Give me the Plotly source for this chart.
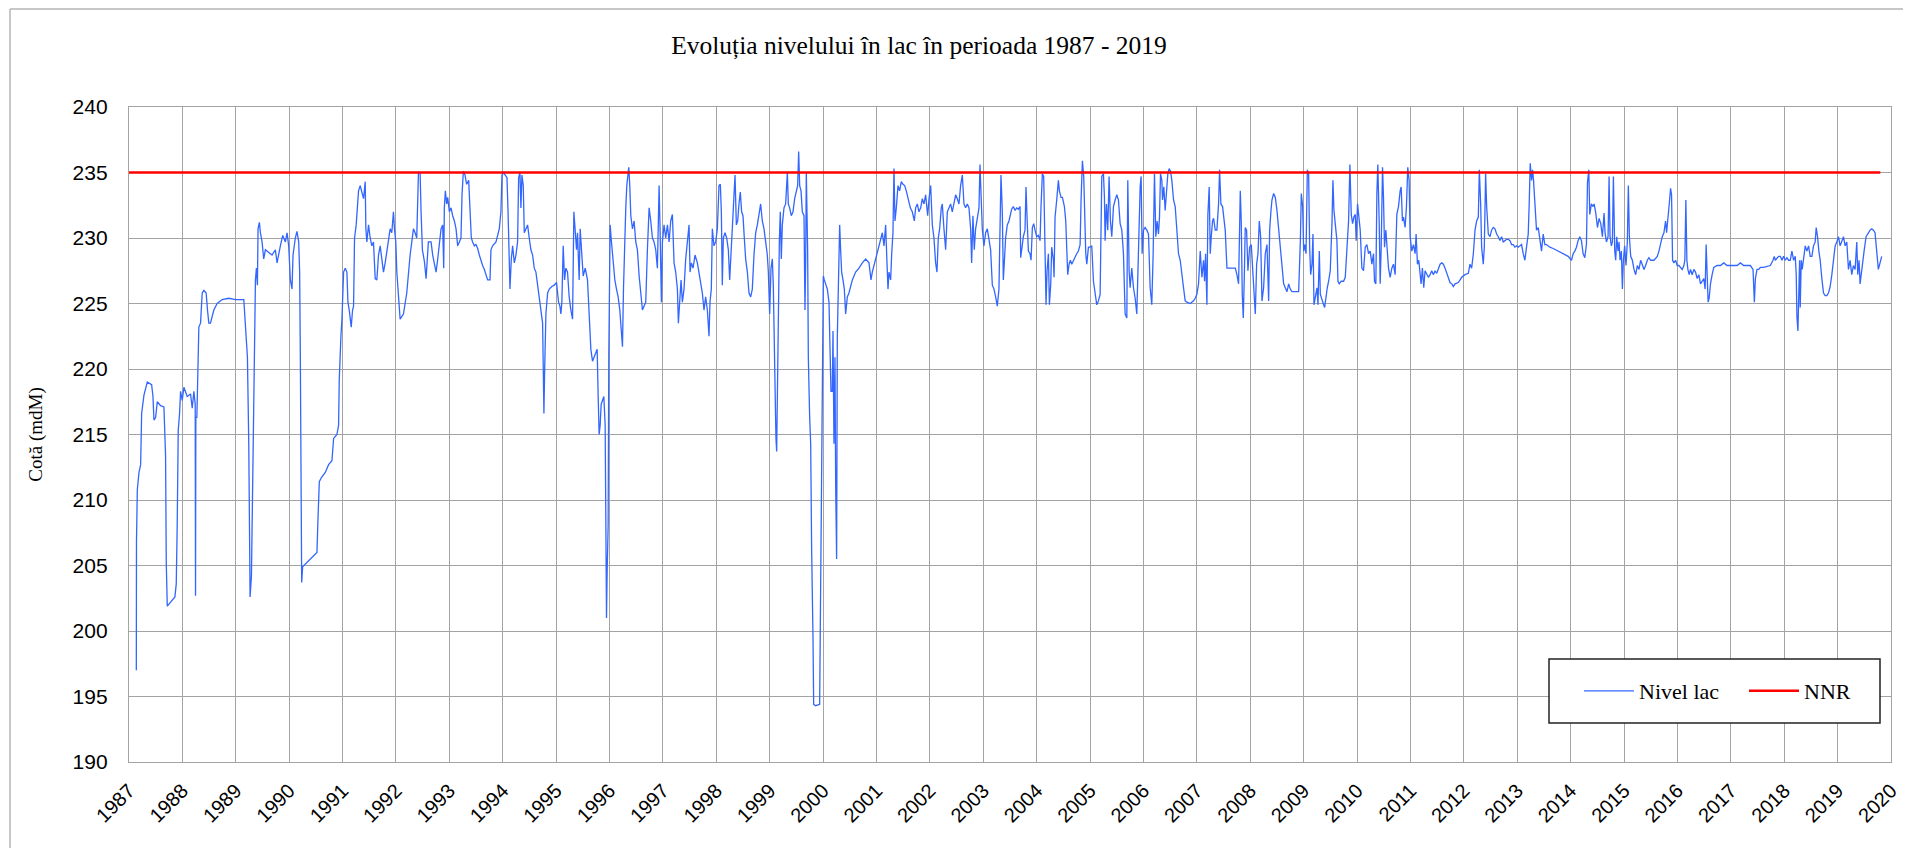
import plotly.graph_objects as go

# ---------------- data (decimal year, level in mdM) ----------------
t_1987_1992 = [1987.137,1987.140,1987.156,1987.187,1987.218,1987.237,1987.280,1987.343,1987.424,1987.449,1987.467,1987.498,1987.530,1987.592,1987.654,1987.685,1987.698,1987.717,1987.860,1987.885,1987.903,1987.922,1987.947,1987.966,1987.997,1988.028,1988.090,1988.153,1988.184,1988.215,1988.240,1988.246,1988.252,1988.271,1988.290,1988.308,1988.340,1988.371,1988.402,1988.445,1988.470,1988.495,1988.526,1988.589,1988.651,1988.745,1988.869,1988.994,1989.150,1989.168,1989.193,1989.218,1989.243,1989.255,1989.268,1989.293,1989.318,1989.336,1989.355,1989.368,1989.386,1989.405,1989.417,1989.442,1989.461,1989.492,1989.523,1989.555,1989.617,1989.679,1989.741,1989.773,1989.835,1989.879,1989.928,1989.960,1989.991,1990.022,1990.053,1990.072,1990.115,1990.146,1990.178,1990.196,1990.209,1990.221,1990.234,1990.252,1990.520,1990.539,1990.564,1990.601,1990.676,1990.738,1990.801,1990.832,1990.894,1990.925,1990.938,1990.969,1990.988,1991.019,1991.050,1991.081,1991.100,1991.125,1991.143,1991.162,1991.187,1991.206,1991.224,1991.255,1991.299,1991.330,1991.361,1991.393,1991.424,1991.436,1991.455,1991.486,1991.517,1991.548,1991.579,1991.611,1991.642,1991.673,1991.704,1991.735,1991.766,1991.798,1991.829,1991.860,1991.891,1991.922,1991.953,1991.972,1991.997,1992.016,1992.047,1992.078,1992.140,1992.202,1992.265,1992.327,1992.358,1992.389,1992.421,1992.452,1992.470,1992.495,1992.533,1992.564,1992.607]
h_1987_1992 = [197.0,206.8,210.8,212.1,212.7,216.6,218.0,219.0,218.8,217.9,216.1,216.3,217.5,217.2,217.1,213.4,205.2,201.9,202.6,203.6,208.1,215.3,216.6,218.3,217.6,218.6,217.9,218.1,217.0,218.3,217.3,202.7,216.3,216.3,220.9,223.2,223.5,225.8,226.0,225.8,224.5,223.5,223.5,224.5,225.0,225.3,225.4,225.3,225.3,224.2,222.2,220.9,214.3,207.8,202.6,204.2,213.4,217.6,225.5,226.8,227.7,226.4,230.7,231.2,230.4,229.7,228.4,229.1,228.9,228.7,229.1,228.1,229.4,230.2,229.7,230.4,229.4,226.8,226.1,228.7,230.0,230.5,229.7,227.4,220.9,215.0,203.7,204.9,206.0,208.5,211.4,211.7,212.1,212.7,213.0,214.7,215.0,215.7,219.2,222.5,223.8,227.4,227.7,227.4,225.1,224.5,223.5,223.2,224.5,224.8,230.0,231.0,233.6,234.0,233.5,233.0,234.3,230.7,229.7,231.0,230.0,229.4,229.7,226.9,226.8,228.7,229.4,228.4,227.4,228.1,229.1,229.7,230.7,230.4,232.0,230.7,229.7,227.4,225.5,223.8,224.2,225.8,228.7,230.7,230.4,230.0,235.0,235.0,232.0,229.1,228.2,226.9,229.7]

t_1992_1998 = [1992.657,1992.688,1992.719,1992.751,1992.782,1992.813,1992.844,1992.875,1992.894,1992.906,1992.925,1992.950,1992.969,1993.000,1993.031,1993.062,1993.094,1993.125,1993.156,1993.187,1993.218,1993.237,1993.262,1993.293,1993.324,1993.362,1993.387,1993.411,1993.436,1993.468,1993.499,1993.530,1993.561,1993.592,1993.623,1993.655,1993.686,1993.717,1993.761,1993.779,1993.810,1993.873,1993.935,1993.966,1993.985,1994.010,1994.047,1994.079,1994.097,1994.122,1994.135,1994.160,1994.185,1994.216,1994.247,1994.278,1994.297,1994.322,1994.340,1994.359,1994.384,1994.403,1994.434,1994.465,1994.496,1994.527,1994.559,1994.590,1994.621,1994.652,1994.683,1994.714,1994.746,1994.758,1994.771,1994.783,1994.808,1994.840,1994.871,1994.920,1994.964,1995.007,1995.045,1995.070,1995.089,1995.107,1995.132,1995.157,1995.182,1995.213,1995.244,1995.276,1995.307,1995.332,1995.357,1995.382,1995.400,1995.431,1995.450,1995.475,1995.506,1995.544,1995.587,1995.618,1995.650,1995.681,1995.712,1995.743,1995.768,1995.787,1995.805,1995.824,1995.843,1995.868,1995.893,1995.918,1995.930,1995.943,1995.955,1995.974,1995.986,1995.999,1996.011,1996.036,1996.067,1996.099,1996.130,1996.161,1996.192,1996.223,1996.242,1996.261,1996.279,1996.304,1996.323,1996.342,1996.360,1996.379,1996.398,1996.429,1996.460,1996.491,1996.522,1996.554,1996.585,1996.616,1996.647,1996.678,1996.709,1996.741,1996.772,1996.803,1996.834,1996.865,1996.896,1996.928,1996.946,1996.971,1996.990,1997.021,1997.052,1997.084,1997.115,1997.146,1997.177,1997.208,1997.239,1997.271,1997.289,1997.314,1997.339,1997.364,1997.395,1997.426,1997.458,1997.489,1997.508,1997.532,1997.564,1997.601,1997.645,1997.676,1997.707,1997.738,1997.769,1997.800,1997.832,1997.863,1997.881,1997.906,1997.925,1997.956,1997.988,1998.019,1998.050]
h_1992_1998 = [229.7,228.7,228.1,227.4,228.4,229.4,230.7,231.0,227.7,232.3,233.6,232.6,233.1,232.0,232.3,231.7,231.3,230.7,229.4,229.7,230.0,233.3,235.1,234.8,234.1,234.4,232.3,230.0,229.7,229.4,229.5,229.2,228.7,228.2,227.9,227.6,227.1,226.8,226.8,229.1,229.4,229.7,230.7,232.0,234.8,235.0,234.8,234.6,232.3,228.7,226.1,228.4,229.4,228.1,228.7,229.7,234.6,235.0,232.3,234.8,234.0,230.4,230.7,231.0,230.0,229.1,228.7,227.7,227.4,226.4,225.5,224.2,223.5,220.2,216.6,219.6,224.2,225.8,226.1,226.3,226.4,226.6,225.1,224.8,224.2,225.1,229.4,226.8,227.7,227.4,225.5,224.5,223.8,232.0,230.7,229.1,230.4,226.8,230.7,229.1,227.1,227.7,226.8,224.2,221.5,220.6,220.9,221.2,221.5,217.9,215.0,215.7,217.3,217.6,217.9,215.7,207.8,201.0,204.5,208.1,220.9,230.0,231.0,229.7,228.1,226.8,226.1,225.5,224.5,222.2,221.7,226.1,229.7,232.3,234.0,235.1,235.4,234.0,231.7,230.7,231.3,229.7,229.1,227.1,225.5,224.5,224.8,225.1,229.1,232.3,231.3,230.0,229.7,229.1,227.7,234.0,230.7,225.1,229.7,231.0,230.0,231.0,229.7,231.3,231.8,228.1,227.4,226.1,223.5,225.1,226.8,225.1,226.1,228.4,230.0,231.0,227.4,228.1,227.7,228.7,228.1,227.4,226.8,225.8,224.5,225.5,224.5,222.5,225.1,226.1,230.7,229.4,229.7,230.7,234.0]

t_1998_2003 = [1998.075,1998.094,1998.112,1998.131,1998.162,1998.194,1998.225,1998.250,1998.275,1998.300,1998.331,1998.350,1998.375,1998.400,1998.424,1998.449,1998.474,1998.499,1998.524,1998.549,1998.581,1998.612,1998.643,1998.674,1998.705,1998.737,1998.768,1998.799,1998.830,1998.861,1998.893,1998.924,1998.955,1998.974,1998.999,1999.024,1999.049,1999.067,1999.086,1999.105,1999.117,1999.130,1999.142,1999.161,1999.180,1999.198,1999.217,1999.236,1999.267,1999.298,1999.330,1999.348,1999.373,1999.404,1999.436,1999.467,1999.498,1999.523,1999.542,1999.561,1999.586,1999.610,1999.642,1999.660,1999.673,1999.685,1999.710,1999.723,1999.748,1999.767,1999.785,1999.798,1999.810,1999.823,1999.860,1999.935,1999.954,1999.973,1999.985,2000.004,2000.022,2000.047,2000.079,2000.110,2000.129,2000.147,2000.172,2000.185,2000.203,2000.222,2000.235,2000.253,2000.266,2000.285,2000.310,2000.328,2000.347,2000.372,2000.397,2000.422,2000.453,2000.484,2000.547,2000.609,2000.672,2000.734,2000.797,2000.859,2000.896,2000.921,2000.984,2001.034,2001.077,2001.109,2001.140,2001.171,2001.196,2001.215,2001.233,2001.265,2001.283,2001.308,2001.327,2001.346,2001.371,2001.402,2001.433,2001.464,2001.496,2001.527,2001.558,2001.596,2001.633,2001.670,2001.708,2001.733,2001.764,2001.795,2001.827,2001.858,2001.889,2001.920,2001.958,2001.983,2002.014,2002.045,2002.076,2002.107,2002.132,2002.157,2002.182,2002.213,2002.232,2002.263,2002.295,2002.326,2002.357,2002.388,2002.419,2002.451,2002.482,2002.513,2002.544,2002.575,2002.607,2002.638,2002.669,2002.700,2002.732,2002.763,2002.782,2002.806,2002.831,2002.856,2002.888,2002.919,2002.938,2002.956,2002.981,2003.012,2003.044,2003.075,2003.106,2003.137,2003.169,2003.200,2003.231,2003.262,2003.293,2003.312,2003.331,2003.356,2003.375,2003.393,2003.418,2003.449,2003.481]
h_1998_2003 = [234.1,232.0,226.4,230.0,230.4,230.0,229.1,226.8,228.7,231.0,232.6,234.8,231.0,231.3,232.6,233.5,232.0,231.7,230.0,228.4,227.4,225.8,225.5,226.1,228.7,230.4,231.0,232.0,232.6,231.3,230.7,229.7,228.7,227.4,224.2,227.7,228.4,226.4,221.2,217.9,214.7,213.7,217.6,225.5,229.7,232.0,228.4,231.0,232.3,232.6,235.0,232.6,232.3,231.7,232.0,233.0,233.6,234.0,236.6,234.0,233.6,232.0,231.7,224.5,228.1,235.0,229.1,220.9,216.3,214.3,206.2,203.9,199.6,194.4,194.3,194.4,205.5,211.1,222.5,227.1,226.8,226.4,226.1,225.1,222.5,218.3,218.3,222.9,214.3,220.9,211.1,205.5,222.5,226.1,231.0,229.1,227.4,226.8,226.1,224.2,225.5,225.8,226.8,227.4,227.7,228.1,228.4,228.1,226.8,227.4,228.4,229.1,230.0,230.4,229.4,231.0,228.1,226.1,227.4,226.8,228.7,230.4,235.3,231.3,232.3,234.0,233.6,234.3,234.1,234.0,233.6,233.0,232.3,232.0,231.3,232.3,232.6,232.0,232.3,233.0,232.6,233.3,231.7,233.0,234.0,231.0,230.0,228.1,227.4,230.0,230.7,232.3,232.6,230.7,229.1,232.0,232.3,232.6,232.0,232.6,233.3,233.0,232.6,234.0,234.8,232.6,232.3,232.6,232.3,230.7,228.1,231.7,229.1,230.7,231.7,232.3,235.6,233.3,230.7,229.4,230.4,230.7,229.7,229.1,226.4,226.1,225.5,224.8,226.1,232.3,234.8,232.0,226.8,228.1,230.0,231.0,231.3]

t_2003_2009 = [2003.531,2003.563,2003.594,2003.625,2003.656,2003.688,2003.700,2003.719,2003.750,2003.781,2003.800,2003.819,2003.844,2003.875,2003.894,2003.919,2003.944,2003.969,2004.000,2004.031,2004.063,2004.081,2004.106,2004.131,2004.156,2004.175,2004.194,2004.219,2004.238,2004.263,2004.281,2004.313,2004.325,2004.344,2004.375,2004.406,2004.425,2004.456,2004.481,2004.519,2004.544,2004.563,2004.581,2004.606,2004.631,2004.656,2004.688,2004.719,2004.750,2004.781,2004.813,2004.831,2004.856,2004.881,2004.894,2004.919,2004.938,2004.969,2005.000,2005.031,2005.063,2005.094,2005.125,2005.156,2005.188,2005.219,2005.250,2005.269,2005.281,2005.306,2005.331,2005.356,2005.381,2005.406,2005.438,2005.469,2005.500,2005.531,2005.563,2005.594,2005.625,2005.656,2005.688,2005.706,2005.731,2005.750,2005.781,2005.813,2005.844,2005.875,2005.906,2005.938,2005.956,2005.975,2006.000,2006.031,2006.063,2006.094,2006.125,2006.156,2006.181,2006.206,2006.231,2006.256,2006.281,2006.300,2006.319,2006.344,2006.356,2006.381,2006.406,2006.438,2006.456,2006.481,2006.506,2006.531,2006.563,2006.594,2006.625,2006.656,2006.688,2006.719,2006.750,2006.781,2006.813,2006.875,2006.938,2006.969,2007.000,2007.031,2007.063,2007.094,2007.125,2007.144,2007.163,2007.188,2007.206,2007.231,2007.250,2007.269,2007.294,2007.313,2007.344,2007.375,2007.406,2007.425,2007.450,2007.481,2007.513,2007.531,2007.563,2007.594,2007.656,2007.719,2007.750,2007.781,2007.813,2007.831,2007.850,2007.869,2007.888,2007.906,2007.931,2007.956,2007.988,2008.019,2008.044,2008.069,2008.094,2008.119,2008.144,2008.169,2008.194,2008.219,2008.250,2008.281,2008.313,2008.344,2008.363,2008.388,2008.406,2008.438,2008.469,2008.500,2008.531,2008.563,2008.594,2008.625,2008.656,2008.688,2008.719,2008.750,2008.781,2008.844,2008.906]
h_2003_2009 = [232.2,232.4,232.1,232.3,232.2,232.4,228.5,229.3,230.1,230.6,233.9,231.6,229.0,228.8,228.3,230.8,231.1,230.6,230.1,230.2,229.8,232.4,234.9,234.7,230.1,224.9,227.5,228.8,224.9,226.5,229.3,228.3,227.0,231.6,232.9,234.4,233.6,233.1,233.1,232.4,231.3,228.8,227.2,228.0,228.3,228.0,228.3,228.5,228.8,229.0,229.5,232.9,235.9,234.7,232.1,228.8,228.0,229.3,229.3,229.4,226.7,225.9,224.9,225.2,225.7,234.7,234.9,233.1,229.8,232.6,230.6,234.7,231.3,230.1,232.4,232.9,233.3,232.9,231.1,230.6,228.8,224.2,223.9,234.4,227.5,226.2,227.7,226.2,225.4,224.2,230.1,233.9,234.7,228.8,230.6,230.8,230.6,230.3,226.2,224.9,228.8,234.9,230.1,231.3,230.3,231.6,234.9,234.4,232.9,233.9,232.1,233.9,234.9,235.3,235.1,234.4,232.9,232.4,230.6,228.8,228.3,227.0,226.2,225.2,225.1,225.0,225.2,225.4,225.7,226.5,229.0,227.0,228.3,226.7,228.8,224.9,231.8,233.9,228.8,230.1,231.3,231.5,230.6,230.6,232.6,235.2,232.6,232.4,231.3,230.6,227.7,227.7,227.7,227.7,227.2,226.5,233.6,231.3,225.7,223.9,227.0,230.8,230.6,227.5,229.3,229.5,227.7,225.4,224.2,228.0,228.8,231.3,230.1,225.2,226.2,228.8,229.5,225.2,230.6,232.1,232.9,233.4,233.1,232.1,230.6,229.5,227.7,226.5,226.2,225.9,226.5,226.1,225.9,225.9,225.9]

t_2009_2014 = [2008.938,2008.956,2008.981,2009.000,2009.019,2009.044,2009.069,2009.093,2009.112,2009.131,2009.156,2009.174,2009.193,2009.218,2009.249,2009.268,2009.293,2009.312,2009.343,2009.374,2009.393,2009.417,2009.442,2009.467,2009.498,2009.530,2009.548,2009.567,2009.592,2009.623,2009.642,2009.667,2009.704,2009.748,2009.779,2009.810,2009.841,2009.866,2009.891,2009.916,2009.941,2009.966,2009.984,2010.009,2010.034,2010.059,2010.090,2010.121,2010.153,2010.184,2010.215,2010.246,2010.277,2010.308,2010.327,2010.352,2010.371,2010.389,2010.414,2010.433,2010.452,2010.477,2010.495,2010.514,2010.539,2010.564,2010.589,2010.620,2010.651,2010.682,2010.713,2010.745,2010.776,2010.807,2010.826,2010.850,2010.869,2010.900,2010.925,2010.950,2010.975,2010.994,2011.025,2011.056,2011.087,2011.106,2011.131,2011.156,2011.181,2011.199,2011.224,2011.249,2011.274,2011.305,2011.336,2011.368,2011.399,2011.430,2011.461,2011.492,2011.523,2011.555,2011.586,2011.617,2011.648,2011.679,2011.710,2011.741,2011.773,2011.804,2011.835,2011.897,2011.960,2011.991,2012.022,2012.084,2012.115,2012.146,2012.178,2012.209,2012.240,2012.271,2012.290,2012.315,2012.333,2012.364,2012.383,2012.408,2012.427,2012.458,2012.489,2012.520,2012.551,2012.583,2012.614,2012.645,2012.676,2012.707,2012.738,2012.769,2012.801,2012.832,2012.863,2012.894,2012.925,2012.956,2012.988,2013.019,2013.050,2013.081,2013.112,2013.143,2013.174,2013.206,2013.224,2013.243,2013.268,2013.287,2013.305,2013.330,2013.361,2013.393,2013.424,2013.455,2013.486,2013.517,2013.548,2013.611,2013.673,2013.766,2013.860,2013.953,2014.016,2014.047,2014.078,2014.109,2014.140,2014.171,2014.202,2014.234,2014.265,2014.296,2014.315,2014.340,2014.358,2014.389,2014.421]
h_2009_2014 = [229.8,233.4,232.4,229.0,229.5,228.8,235.2,234.9,229.3,227.2,228.0,230.3,224.9,225.4,226.2,224.9,229.0,225.7,225.2,224.9,224.7,225.7,226.2,226.7,227.5,231.1,234.4,232.1,231.1,229.8,226.7,226.5,226.7,226.7,227.0,229.0,231.3,235.6,231.8,231.1,231.6,231.8,229.8,232.6,231.8,230.6,227.7,227.5,229.3,229.5,228.8,229.0,228.0,228.8,226.7,226.5,233.4,235.6,231.3,226.5,229.3,235.4,233.1,229.3,230.6,229.3,227.7,227.0,227.7,228.0,227.2,231.8,232.4,233.6,233.9,231.3,231.6,230.8,232.4,235.4,234.4,230.1,229.0,229.5,228.8,230.3,228.0,228.3,227.5,226.5,227.7,226.2,227.5,227.2,227.0,227.2,227.5,227.2,227.5,227.3,227.7,228.0,228.1,228.0,227.7,227.3,227.0,226.6,226.5,226.3,226.5,226.6,227.0,227.1,227.2,227.3,228.0,227.7,228.8,230.6,231.3,231.6,235.2,232.6,229.3,228.0,229.3,234.9,232.4,230.3,230.1,230.6,230.8,230.7,230.3,230.1,229.8,230.1,229.7,229.8,229.9,229.9,229.8,229.5,229.5,229.3,229.4,229.3,229.4,229.5,228.8,228.3,229.3,230.3,232.6,235.7,234.4,235.2,234.4,232.6,230.6,230.8,229.8,229.0,230.3,229.5,229.5,229.3,229.2,229.0,228.8,228.6,228.3,228.8,229.0,229.3,229.8,230.1,229.8,228.8,228.5,229.5,234.2,235.2,231.8,232.6,232.4]

t_2014_2019 = [2014.440,2014.471,2014.502,2014.533,2014.564,2014.595,2014.626,2014.645,2014.670,2014.701,2014.720,2014.738,2014.763,2014.782,2014.801,2014.826,2014.844,2014.863,2014.888,2014.907,2014.925,2014.950,2014.969,2014.988,2015.012,2015.037,2015.062,2015.081,2015.100,2015.125,2015.156,2015.187,2015.218,2015.249,2015.280,2015.311,2015.342,2015.374,2015.405,2015.436,2015.467,2015.498,2015.560,2015.623,2015.654,2015.685,2015.716,2015.747,2015.778,2015.797,2015.822,2015.847,2015.872,2015.890,2015.909,2015.934,2015.965,2015.996,2016.027,2016.059,2016.090,2016.121,2016.139,2016.158,2016.177,2016.196,2016.220,2016.245,2016.276,2016.308,2016.339,2016.370,2016.401,2016.432,2016.463,2016.494,2016.519,2016.538,2016.557,2016.575,2016.594,2016.619,2016.650,2016.681,2016.743,2016.806,2016.868,2016.930,2016.993,2017.055,2017.117,2017.179,2017.242,2017.304,2017.366,2017.416,2017.441,2017.460,2017.491,2017.522,2017.553,2017.615,2017.677,2017.740,2017.790,2017.814,2017.833,2017.864,2017.895,2017.927,2017.958,2017.989,2018.020,2018.051,2018.082,2018.113,2018.144,2018.176,2018.207,2018.225,2018.238,2018.257,2018.269,2018.288,2018.300,2018.319,2018.337,2018.362,2018.394,2018.425,2018.456,2018.487,2018.518,2018.549,2018.580,2018.599,2018.624,2018.649,2018.674,2018.705,2018.736,2018.767,2018.798,2018.829,2018.861,2018.892,2018.923,2018.954,2018.985,2019.016,2019.047,2019.078,2019.110,2019.141,2019.172,2019.203,2019.234,2019.265,2019.296,2019.328,2019.359,2019.377,2019.402,2019.421,2019.452,2019.471,2019.496,2019.533,2019.577,2019.608,2019.639,2019.670,2019.701,2019.732,2019.763,2019.795,2019.826]
h_2014_2019 = [232.6,231.9,230.8,231.5,231.1,230.1,231.9,230.4,229.7,230.1,234.7,230.1,229.4,229.7,234.7,229.0,228.3,230.1,229.0,229.7,228.3,229.0,226.1,228.3,229.4,227.9,229.7,234.0,230.1,228.6,228.3,227.6,227.2,227.9,227.6,228.3,227.9,227.6,227.9,228.3,228.5,228.3,228.3,228.6,229.0,229.7,230.1,230.4,231.3,230.4,231.9,232.6,233.8,233.3,228.3,228.1,228.3,227.9,227.9,227.75,227.6,227.9,228.3,232.9,228.3,227.6,227.2,227.6,227.2,227.6,227.4,226.9,227.2,226.5,226.7,226.9,226.1,229.5,227.2,225.1,225.4,226.5,227.2,227.75,227.9,227.9,228.1,227.9,227.9,227.9,227.9,228.1,227.9,227.9,227.9,227.6,225.1,226.9,227.6,227.6,227.75,227.75,227.85,227.9,228.3,228.6,228.3,228.5,228.6,228.6,228.3,228.6,228.3,228.5,228.3,228.3,229.0,228.3,228.6,227.2,224.0,222.9,225.4,228.3,224.7,228.3,227.6,228.3,229.4,229.0,229.4,228.6,228.6,229.4,229.7,230.8,230.1,229.0,228.3,226.9,225.8,225.6,225.6,225.8,226.3,227.2,228.3,229.4,229.7,230.1,229.4,229.7,230.1,229.4,229.7,227.6,228.3,227.2,227.9,227.6,229.7,227.2,228.3,226.5,227.6,228.6,229.0,230.1,230.4,230.6,230.7,230.6,230.4,228.6,227.6,228.1,228.6]

# NNR (normal retention level)
nnr_years = [1987.0, 2019.8]
nnr_level = [235.0, 235.0]

year_ticks = list(range(1987, 2021))
year_labels = [str(y) for y in year_ticks]

# ---------------- figure ----------------
years = t_1987_1992 + t_1992_1998 + t_1998_2003 + t_2003_2009 + t_2009_2014 + t_2014_2019
levels = h_1987_1992 + h_1992_1998 + h_1998_2003 + h_2003_2009 + h_2009_2014 + h_2014_2019

GRID = "#a3a3a3"
SERIF = "Liberation Serif, Times New Roman, serif"
SANS = "Liberation Sans, Arial, sans-serif"

fig = go.Figure()
fig.add_trace(go.Scatter(x=years, y=levels, mode="lines", name="Nivel lac",
                         line=dict(color="#3366ff", width=1.3)))
fig.add_trace(go.Scatter(x=nnr_years, y=nnr_level, mode="lines", name="NNR",
                         line=dict(color="#ff0000", width=2.6)))

# the page body adds an 8px offset, so the canvas is 8px smaller
OFF = 8
W, H = 1911 - OFF, 848 - OFF
PL, PR, PT, PB = 129 - OFF, 1891 - OFF, 107 - OFF, 762 - OFF   # plot box in canvas px
L, R, T, B = PL, W - PR, PT, H - PB
pw, ph = PR - PL, PB - PT

def px_x(px):  # reference-screen px -> paper
    return (px - OFF - PL) / pw

def px_y(py):
    return (PB - (py - OFF)) / ph

fig.update_layout(
    width=W, height=H, autosize=False,
    margin=dict(l=L, r=R, t=T, b=B, autoexpand=False),
    paper_bgcolor="white", plot_bgcolor="white",
    title=dict(text="Evoluția nivelului în lac în perioada 1987 - 2019",
               font=dict(family=SERIF, size=25.5, color="black"),
               x=(919 - OFF) / W, xref="container", xanchor="center",
               y=1 - (45 - OFF) / H, yref="container", yanchor="middle"),
    showlegend=True,
    legend=dict(orientation="h", x=px_x(1579), y=px_y(691), xanchor="left", yanchor="middle",
                font=dict(family=SERIF, size=22, color="black"),
                bgcolor="rgba(0,0,0,0)", borderwidth=0, itemwidth=50,
                entrywidth=100, entrywidthmode="pixels"),
    shapes=[
        dict(type="rect", xref="paper", yref="paper", layer="above",
             x0=px_x(1549), x1=px_x(1880), y0=px_y(723), y1=px_y(659),
             line=dict(color="#222222", width=1.5), fillcolor="white"),
        dict(type="line", xref="paper", yref="paper",
             x0=px_x(10), x1=px_x(1915), y0=px_y(9), y1=px_y(9),
             line=dict(color="#b4b4b4", width=1.5)),
        dict(type="line", xref="paper", yref="paper",
             x0=px_x(10), x1=px_x(10), y0=px_y(9), y1=px_y(852),
             line=dict(color="#b4b4b4", width=1.5)),
    ],
)

fig.update_xaxes(range=[1987, 2020], tickmode="array", tickvals=year_ticks, ticktext=year_labels,
                 tickangle=-45, tickfont=dict(family=SANS, size=20, color="black"),
                 showgrid=True, gridcolor=GRID, gridwidth=1.3,
                 showline=True, linecolor=GRID, linewidth=1.3, mirror=True,
                 zeroline=False, ticks="", ticklabelstandoff=8)
fig.update_yaxes(range=[190, 240], dtick=5, tick0=190,
                 tickfont=dict(family=SANS, size=21, color="black"),
                 showgrid=True, gridcolor=GRID, gridwidth=1.3,
                 showline=True, linecolor=GRID, linewidth=1.3, mirror=True,
                 zeroline=False, ticks="", ticklabelstandoff=16,
                 title=dict(text="Cotă (mdM)", font=dict(family=SERIF, size=19, color="black"),
                            standoff=24))

fig.write_html("out.html")
